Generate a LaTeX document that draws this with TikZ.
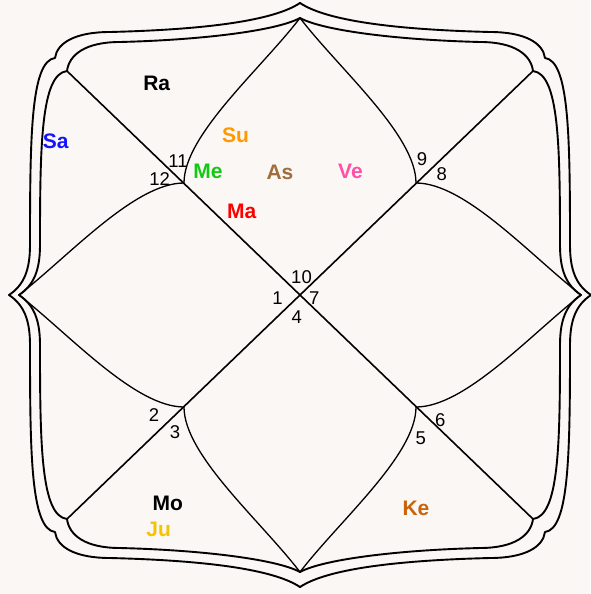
\documentclass[tikz,border=0pt]{standalone}
\usepackage{fontspec}
\setmainfont{Liberation Sans}
\definecolor{bgc}{RGB}{250,247,245}
\definecolor{csa}{RGB}{20,20,255}
\definecolor{csu}{RGB}{255,153,0}
\definecolor{cme}{RGB}{20,200,20}
\definecolor{cas}{RGB}{160,110,60}
\definecolor{cve}{RGB}{255,80,165}
\definecolor{cma}{RGB}{255,0,0}
\definecolor{cju}{RGB}{245,195,0}
\definecolor{cke}{RGB}{200,100,10}
\begin{document}
\begin{tikzpicture}[x=1pt,y=-1pt,
  frameline/.style={line width=1.9pt, line cap=round, line join=round},
  diag/.style={line width=1.6pt},
  lotus/.style={line width=1.3pt, line cap=round},
  planet/.style={font=\fontsize{21}{24}\selectfont\bfseries, anchor=base, inner sep=0pt},
  housenum/.style={font=\fontsize{18.5}{20}\selectfont, anchor=base, inner sep=0pt}]
\fill[bgc] (0,0) rectangle (590,594);
\useasboundingbox (0,0) rectangle (590,594);
\begin{scope}[shift={(300,295)}]
 \foreach \sx/\sy in {1/1,-1/1,1/-1,-1/-1}{
  \begin{scope}[xscale=\sx,yscale=\sy]
   \draw[frameline] (-281,0) .. controls (-266,-10) and (-260,-25) .. (-260,-50)
     .. controls (-260,-150) and (-259,-221) .. (-233,-224)
     .. controls (-231,-240) and (-215,-253) .. (-180,-253)
     .. controls (-100,-255) and (-24,-264) .. (0,-277);
   \draw[frameline] (-291,0) .. controls (-276,-10) and (-270,-25) .. (-270,-50)
     .. controls (-270,-160) and (-269,-234) .. (-245,-237)
     .. controls (-243,-252) and (-225,-263) .. (-190,-263)
     .. controls (-110,-265) and (-30,-272) .. (0,-292);
   \draw[lotus] (0,-277) .. controls (-40,-225) and (-116,-160) .. (-116,-112);
   \draw[lotus] (-281,0) .. controls (-230,-40) and (-165,-112) .. (-116,-112);
  \end{scope}}
 \draw[diag] (-233,-224) -- (233,224);
 \draw[diag] (233,-224) -- (-233,224);
\end{scope}
% planets
\node[planet] (ra) at (156.7,90.7) {Ra};
\node[planet,text=csa] (sa) at (55.8,148) {Sa};
\node[planet,text=csu] (su) at (235.5,142.7) {Su};
\node[planet,text=cme] (me) at (208,178.5) {Me};
\node[planet,text=cas] (as) at (280,179) {As};
\node[planet,text=cve] (ve) at (350.5,178.5) {Ve};
\node[planet,text=cma] (ma) at (241.8,218.3) {Ma};
\node[planet] (mo) at (167.7,510) {Mo};
\node[planet,text=cju] (ju) at (158.7,536.7) {Ju};
\node[planet,text=cke] (ke) at (416,515) {Ke};
% house numbers
\node[housenum] (h11) at (178,167.3) {11};
\node[housenum] (h12) at (159.7,185) {12};
\node[housenum] (h9) at (422,165) {9};
\node[housenum] (h8) at (441.7,180.7) {8};
\node[housenum] (h10) at (301.5,283.5) {10};
\node[housenum] (h1) at (277.5,304.3) {1};
\node[housenum] (h7) at (314.3,304.3) {7};
\node[housenum] (h4) at (296.7,323.3) {4};
\node[housenum] (h2) at (154,421.7) {2};
\node[housenum] (h3) at (175,438.3) {3};
\node[housenum] (h6) at (440.3,426.7) {6};
\node[housenum] (h5) at (420.7,444) {5};
\end{tikzpicture}
\end{document}
